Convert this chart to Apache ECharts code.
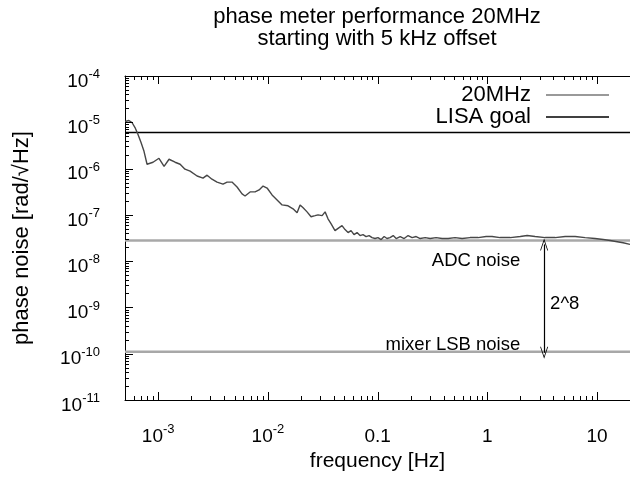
<!DOCTYPE html>
<html><head><meta charset="utf-8">
<script src="https://cdn.jsdelivr.net/npm/echarts@6/dist/echarts.min.js"></script>
<style>html,body{margin:0;padding:0;background:#fff}#c{width:630px;height:477px}</style>
</head><body><div id="c"></div>
<script>
// ---- data ----
const freq = [5.0e-4, 5.43e-4, 5.79e-4, 6.17e-4, 6.57e-4, 7.0e-4, 7.45e-4, 7.94e-4, 9.0e-4, 1.02e-3,
  1.135e-3, 1.26e-3, 1.43e-3, 1.59e-3, 1.76e-3, 1.96e-3, 2.27e-3, 2.57e-3, 2.80e-3, 3.10e-3,
  3.45e-3, 3.91e-3, 4.26e-3, 4.72e-3, 5.25e-3, 5.83e-3, 6.21e-3, 6.9e-3, 7.66e-3, 8.34e-3,
  9.06e-3, 9.86e-3, 1.094e-2, 1.216e-2, 1.35e-2, 1.53e-2, 1.70e-2, 1.85e-2, 1.97e-2, 2.10e-2,
  2.28e-2, 2.48e-2, 2.70e-2, 2.87e-2, 3.13e-2, 3.33e-2, 3.54e-2, 3.78e-2, 4.10e-2, 4.47e-2,
  4.75e-2, 5.06e-2, 5.39e-2, 5.74e-2, 6.11e-2, 6.51e-2, 6.93e-2, 7.38e-2, 7.87e-2, 8.38e-2,
  8.92e-2, 9.5e-2, 0.101, 0.108, 0.115, 0.122, 0.130, 0.139, 0.148, 0.161,
  0.175, 0.190, 0.207, 0.225, 0.245, 0.272, 0.302, 0.342, 0.388, 0.440,
  0.509, 0.590, 0.698, 0.826, 0.977, 1.107, 1.31, 1.62, 2.0, 2.31,
  2.73, 3.37, 4.16, 5.13, 6.33, 7.8, 9.6, 11.4, 13.2, 15.3,
  17.3, 20.0];
const noise20MHz = [1.04e-5, 1.09e-5, 9.9e-6, 7.7e-6, 5.46e-6, 3.67e-6, 2.36e-6, 1.24e-6, 1.37e-6, 1.67e-6,
  1.12e-6, 1.59e-6, 1.37e-6, 1.24e-6, 9.7e-7, 8.8e-7, 6.9e-7, 6.2e-7, 7.2e-7, 5.9e-7,
  5.1e-7, 4.6e-7, 5.1e-7, 5.1e-7, 4.0e-7, 2.83e-7, 2.56e-7, 3.13e-7, 3.13e-7, 3.45e-7,
  4.2e-7, 3.8e-7, 2.69e-7, 2.1e-7, 1.64e-7, 1.57e-7, 1.35e-7, 1.11e-7, 1.64e-7, 1.42e-7,
  1.16e-7, 9.1e-8, 9.6e-8, 1.0e-7, 9.6e-8, 1.16e-7, 8.2e-8, 6.4e-8, 4.57e-8, 5.3e-8,
  5.85e-8, 4.8e-8, 4.14e-8, 4.57e-8, 3.75e-8, 4.14e-8, 3.57e-8, 3.75e-8, 3.4e-8, 3.57e-8,
  3.23e-8, 3.08e-8, 3.23e-8, 2.93e-8, 3.4e-8, 3.08e-8, 3.23e-8, 3.57e-8, 3.08e-8, 3.4e-8,
  3.08e-8, 3.57e-8, 3.23e-8, 3.4e-8, 3.08e-8, 3.23e-8, 3.08e-8, 3.23e-8, 3.08e-8, 3.08e-8,
  3.23e-8, 3.08e-8, 3.23e-8, 3.23e-8, 3.4e-8, 3.4e-8, 3.23e-8, 3.23e-8, 3.4e-8, 3.57e-8,
  3.4e-8, 3.23e-8, 3.23e-8, 3.4e-8, 3.4e-8, 3.23e-8, 3.08e-8, 2.93e-8, 2.79e-8, 2.63e-8,
  2.5e-8, 2.3e-8];
const lisaGoal = 6.0e-6;
const adcNoise = 2.8e-8;
const mixerLsbNoise = 1.1e-10;
const xRange = [5e-4, 20];
const yRange = [1e-11, 1e-4];
const xTickValues = [1e-3, 1e-2, 0.1, 1, 10];
const xTickBase = ['10', '10', '0.1', '1', '10'];
const xTickSup = ['-3', '-2', '', '', ''];
const xDecades = [-4, -3, -2, -1, 0, 1];
const yTickExponents = [-11, -10, -9, -8, -7, -6, -5, -4];
const annotTexts = ['ADC noise', 'mixer LSB noise', '2^8'];
const annotFreq = [2.0, 2.0, 3.74];
const annotValue = [9.9e-9, 1.57e-10, 1.2e-9];
const annotSide = ['left', 'left', 'right'];
const arrowFreq = 3.3;
const arrowEnds = [2.3e-8, 1.05e-10];

// ---- tick marks (decades and 2..9 sub-divisions) ----
const tickData = [];
function inRange(v, r) { return v >= r[0] * (1 - 1e-9) && v <= r[1] * (1 + 1e-9); }
for (const d of xDecades) for (let m = 1; m <= 9; m++) {
  const v = m * Math.pow(10, d);
  if (inRange(v, xRange)) tickData.push([v, yRange[0], 0, m === 1 ? 1 : 0]);
}
for (const d of yTickExponents) for (let m = 1; m <= 9; m++) {
  const v = m * Math.pow(10, d);
  if (inRange(v, yRange)) tickData.push([xRange[0], v, 1, m === 1 ? 1 : 0]);
}

// ---- chart ----
const FONT = '"Liberation Sans", Arial, Helvetica, sans-serif';
const rich = {
  h: {fontSize: 1, lineHeight: 30, verticalAlign: 'middle', fontFamily: FONT},
  b: {fontSize: 19, lineHeight: 20, verticalAlign: 'bottom', color: '#000', fontFamily: FONT},
  s: {fontSize: 13, verticalAlign: 'middle', color: '#000', fontFamily: FONT, padding: [0, 0, 3, 0]}
};
function near(a, b) { return Math.abs(Math.log10(a) - Math.log10(b)) < 1e-6; }
function xLabel(v) {
  for (let i = 0; i < xTickValues.length; i++) {
    if (near(v, xTickValues[i])) return '{h| }{b|' + xTickBase[i] + '}' + (xTickSup[i] ? '{s|' + xTickSup[i] + '}' : '');
  }
  return '';
}
function yLabel(v) {
  for (const e of yTickExponents) {
    if (near(v, Math.pow(10, e))) return '{h| }{b|10}{s|' + e + '}';
  }
  return '';
}
const axisCommon = {
  type: 'log', logBase: 10,
  axisLine: {show: true, lineStyle: {color: '#000', width: 1}},
  axisTick: {show: false},
  minorTick: {show: false},
  splitLine: {show: false}, minorSplitLine: {show: false}
};
const arrowPath = 'path://M5,0 L10,12 L9,12 L5,2.5 L1,12 L0,12 Z';
const option = {
  animation: false,
  backgroundColor: '#fff',
  title: {
    text: 'phase meter performance 20MHz\nstarting with 5 kHz offset',
    left: 372, top: 1, textAlign: 'center',
    textStyle: {fontSize: 22, lineHeight: 22, fontWeight: 'normal', color: '#000', fontFamily: FONT}
  },
  legend: {
    data: ['20MHz', 'LISA goal'], orient: 'vertical', right: 16, top: 79, align: 'right',
    icon: 'rect', itemWidth: 63, itemHeight: 1.6, itemGap: 0,
    textStyle: {fontSize: 22, lineHeight: 22, color: '#000', fontFamily: FONT, padding: [0, 10, 0, 0]}
  },
  grid: {left: 125, top: 76, right: 0, bottom: 74, containLabel: false},
  xAxis: [
    Object.assign({}, axisCommon, {
      position: 'bottom', min: xRange[0], max: xRange[1], splitNumber: 5,
      axisLabel: {show: true, margin: 16, formatter: xLabel, rich: rich, showMinLabel: false, showMaxLabel: false},
      name: 'frequency [Hz]', nameLocation: 'middle', nameGap: 51,
      nameTextStyle: {fontSize: 21, color: '#000', fontFamily: FONT}
    }),
    Object.assign({}, axisCommon, {
      position: 'top', min: xRange[0], max: xRange[1], splitNumber: 5,
      axisLabel: {show: false}
    })
  ],
  yAxis: Object.assign({}, axisCommon, {
    position: 'left', min: yRange[0], max: yRange[1], splitNumber: 7,
    axisLabel: {show: true, margin: 25, formatter: yLabel, rich: rich},
    name: 'phase noise [rad/\u221AHz]', nameLocation: 'middle', nameGap: 92, nameRotate: 90,
    nameTextStyle: {fontSize: 22, color: '#000', fontFamily: FONT}
  }),
  series: [
    {
      name: 'ticks', type: 'custom', silent: true, z: 5, clip: false,
      data: tickData,
      renderItem: function (params, api) {
        const kind = api.value(2), major = api.value(3);
        const len = major ? 8 : 4;
        const style = {stroke: '#000', lineWidth: 1};
        if (kind === 0) {
          const f = api.value(0);
          const b = api.coord([f, yRange[0]]);
          const t = api.coord([f, yRange[1]]);
          const x = Math.round(b[0]) + 0.5;
          return {type: 'group', children: [
            {type: 'line', shape: {x1: x, y1: b[1], x2: x, y2: b[1] - len}, style: style},
            {type: 'line', shape: {x1: x, y1: t[1], x2: x, y2: t[1] + len}, style: style}
          ]};
        }
        const p = api.coord([xRange[0], api.value(1)]);
        const y = Math.round(p[1]) + 0.5;
        return {type: 'line', shape: {x1: p[0], y1: y, x2: p[0] + len, y2: y}, style: style};
      }
    },
    {
      name: 'ADC noise level', type: 'line', symbol: 'none', z: 1,
      data: [[xRange[0], adcNoise], [xRange[1], adcNoise]],
      lineStyle: {color: '#a8a8a8', width: 2.5}
    },
    {
      name: 'mixer LSB noise level', type: 'line', symbol: 'none', z: 1,
      data: [[xRange[0], mixerLsbNoise], [xRange[1], mixerLsbNoise]],
      lineStyle: {color: '#a8a8a8', width: 2.5}
    },
    {
      name: '20MHz', type: 'line', symbol: 'none', showSymbol: false, z: 3,
      data: freq.map((f, i) => [f, noise20MHz[i]]),
      itemStyle: {color: '#777'},
      lineStyle: {color: '#474747', width: 1.4}
    },
    {
      name: 'LISA goal', type: 'line', symbol: 'none', showSymbol: false, z: 2,
      data: [[xRange[0], lisaGoal], [xRange[1], lisaGoal]],
      itemStyle: {color: '#000'},
      lineStyle: {color: '#000', width: 1.5}
    },
    {
      name: 'annotations', type: 'scatter', symbolSize: 0, z: 4, silent: true,
      itemStyle: {opacity: 1},
      data: annotTexts.map((t, i) => ({
        name: t, value: [annotFreq[i], annotValue[i]],
        label: {position: annotSide[i]}
      })),
      label: {show: true, formatter: '{b}', distance: 0, fontSize: 18.5, color: '#000', opacity: 1,
        textBorderWidth: 0, fontFamily: FONT},
      markLine: {
        silent: true, symbol: [arrowPath, arrowPath], symbolSize: [8, 12],
        lineStyle: {color: '#000', width: 1.2, type: 'solid', opacity: 1},
        label: {show: false}, emphasis: {disabled: true},
        data: [[{coord: [arrowFreq, arrowEnds[0]]}, {coord: [arrowFreq, arrowEnds[1]]}]]
      }
    }
  ]
};
const chart = echarts.init(document.getElementById('c'), null, {renderer: 'canvas'});
chart.setOption(option);
</script>
</body></html>
